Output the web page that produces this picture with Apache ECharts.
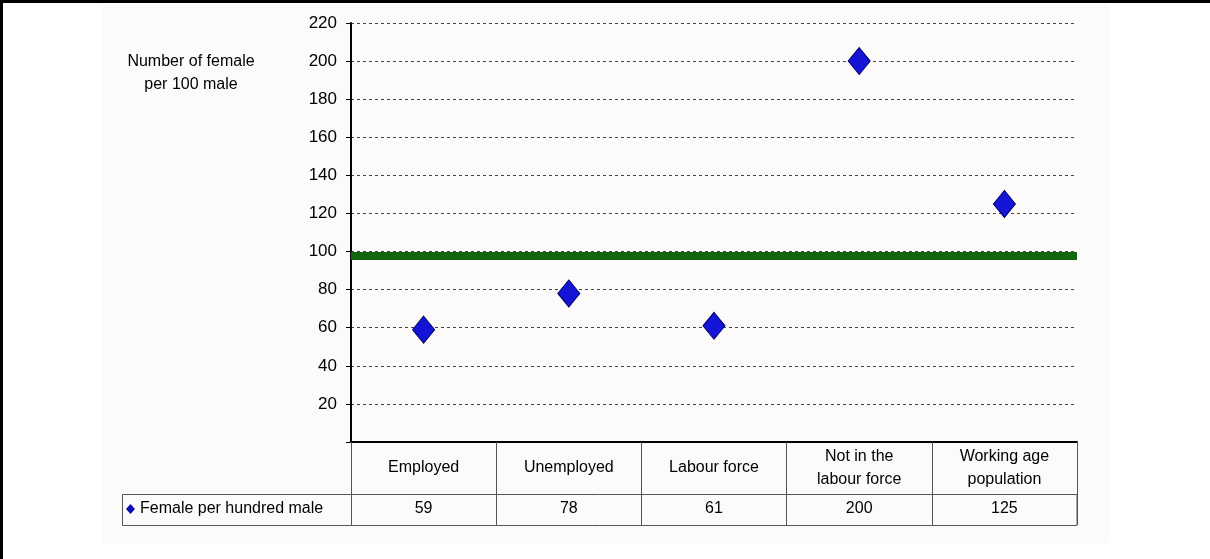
<!DOCTYPE html>
<html>
<head>
<meta charset="utf-8">
<script src="https://cdn.jsdelivr.net/npm/echarts@6/dist/echarts.min.js"></script>
<style>
  html, body { margin: 0; padding: 0; background: #ffffff; }
  #chart { width: 1210px; height: 559px; }
</style>
</head>
<body>
<div id="chart"></div>
<script>
// Sex ratio by labour-force status (females per 100 males)
const categories = ['Employed', 'Unemployed', 'Labour force', 'Not in the\nlabour force', 'Working age\npopulation'];
const femalePer100Male = [59, 78, 61, 200, 125];
const seriesName = 'Female per hundred male';
const axisTitle = 'Number of female\nper 100 male';
const yMin = 0;
const yMax = 220;
const yStep = 20;
const parityLevel = 98;

const FONT = "'Liberation Sans', Arial, sans-serif";
const chart = echarts.init(document.getElementById('chart'), null, { renderer: 'canvas' });

chart.setOption({
  animation: false,
  backgroundColor: '#ffffff',
  textStyle: { fontFamily: FONT },
  grid: { left: 351, right: 133, top: 23, bottom: 117, containLabel: false },
  legend: {
    data: [seriesName],
    left: 126,
    top: 501,
    padding: 0,
    icon: 'diamond',
    itemWidth: 9,
    itemHeight: 10,
    itemGap: 0,
    itemStyle: { color: '#0c0cb4', borderWidth: 0 },
    textStyle: { fontFamily: FONT, fontSize: 16, color: '#000' },
    selectedMode: false
  },
  graphic: [
    // panel background and frame
    { type: 'rect', z: -10, shape: { x: 102, y: 4, width: 1007, height: 539 }, style: { fill: '#fdfafa' }, silent: true },
    { type: 'rect', z: 10, shape: { x: 0, y: 0, width: 1210, height: 3 }, style: { fill: '#000' }, silent: true },
    { type: 'rect', z: 10, shape: { x: 0, y: 0, width: 3, height: 559 }, style: { fill: '#000' }, silent: true },
    // data-table value row frame
    { type: 'rect', z: 5, shape: { x: 122.5, y: 494.5, width: 954.5, height: 31 }, style: { fill: null, stroke: '#555', lineWidth: 1 }, silent: true },
    // axis title
    {
      type: 'text', x: 191, y: 50, silent: true,
      style: { text: axisTitle, fontFamily: FONT, fontSize: 16, lineHeight: 23, fill: '#000', align: 'center', verticalAlign: 'top' }
    }
  ],
  xAxis: [
    {
      type: 'category',
      data: categories,
      position: 'bottom',
      boundaryGap: true,
      axisLine: { show: true, lineStyle: { color: '#000', width: 2 } },
      axisTick: { show: true, interval: 0, length: 83, lineStyle: { color: '#555', width: 1 } },
      axisLabel: {
        interval: 0, margin: 26, verticalAlign: 'middle',
        fontFamily: FONT, fontSize: 16, lineHeight: 23, color: '#000'
      },
      splitLine: { show: false }
    },
    {
      type: 'category',
      data: femalePer100Male.map(v => String(v)),
      position: 'bottom',
      boundaryGap: true,
      axisLine: { show: false },
      axisTick: { show: false },
      axisLabel: {
        interval: 0, margin: 67, verticalAlign: 'middle',
        fontFamily: FONT, fontSize: 16, color: '#000'
      },
      splitLine: { show: false }
    }
  ],
  yAxis: {
    type: 'value',
    min: yMin,
    max: yMax,
    interval: yStep,
    axisLine: { show: true, lineStyle: { color: '#000', width: 2 } },
    axisTick: { show: true, length: 5, lineStyle: { color: '#000', width: 1 } },
    axisLabel: {
      margin: 14,
      fontFamily: FONT, fontSize: 17, color: '#000',
      formatter: v => (v === 0 ? '' : String(v))
    },
    splitLine: { show: true, lineStyle: { color: '#444', width: 1, type: [3, 3] } }
  },
  series: [
    {
      name: seriesName,
      type: 'scatter',
      xAxisIndex: 0,
      data: femalePer100Male,
      symbol: 'diamond',
      symbolSize: [22, 27],
      itemStyle: { color: '#1414d6', borderColor: '#00006e', borderWidth: 1, opacity: 1 },
      z: 4,
      markLine: {
        silent: true,
        symbol: ['none', 'none'],
        label: { show: false },
        lineStyle: { color: '#11670f', width: 8, type: 'solid' },
        data: [{ yAxis: parityLevel }]
      }
    }
  ]
});
</script>
</body>
</html>
